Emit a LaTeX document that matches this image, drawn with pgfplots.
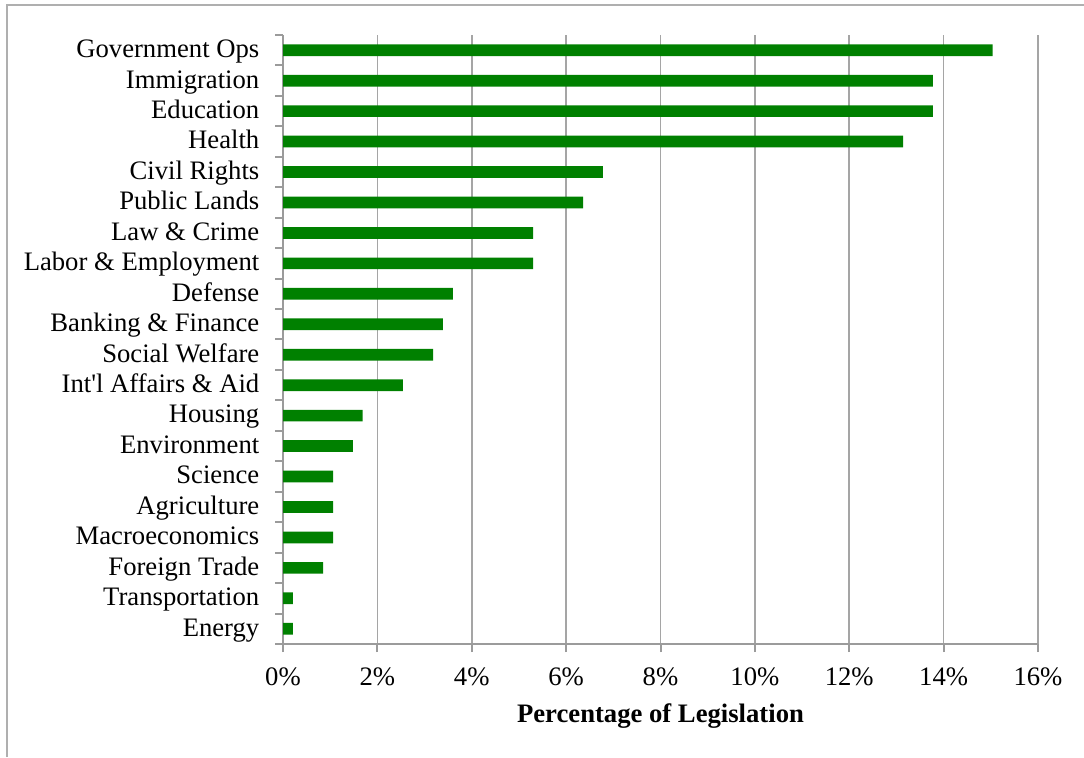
\documentclass[border=0pt]{standalone}
\usepackage{fontspec}
\setmainfont{Liberation Serif}
\usepackage{pgfplots}
\pgfplotsset{compat=1.18}
\definecolor{bargreen}{RGB}{0,128,0}
\definecolor{gridgray}{RGB}{165,165,165}
\definecolor{axisgray}{RGB}{155,155,155}
\definecolor{framegray}{RGB}{175,175,175}
\begin{document}
\begin{tikzpicture}
\useasboundingbox (0,0) rectangle (813pt,567.75pt);
\draw[framegray, line width=1.5pt] (5.25pt,0pt) -- (5.25pt,564pt) -- (813pt,564pt);
\begin{axis}[
  at={(212.25pt,84.75pt)}, anchor=south west,
  scale only axis, width=566.25pt, height=456.75pt,
  xbar, bar width=8.8pt,
  xmin=0, xmax=16, ymin=-0.5, ymax=19.5,
  xtick={0,2,...,16},
  xticklabels={0\%,2\%,4\%,6\%,8\%,10\%,12\%,14\%,16\%},
  ytick={0,...,19},
  yticklabels={Energy,Transportation,Foreign Trade,Macroeconomics,Agriculture,Science,Environment,Housing,Int\textquotesingle l Affairs \& Aid,Social Welfare,Banking \& Finance,Defense,Labor \& Employment,Law \& Crime,Public Lands,Civil Rights,Health,Education,Immigration,Government Ops},
  minor ytick={-0.5,0.5,...,19.5},
  axis x line*=bottom, axis y line*=left,
  axis line style={axisgray, line width=1.5pt, -},
  xmajorgrids, grid style={gridgray, line width=1.25pt},
  tick align=outside,
  major tick length=6pt, minor tick length=6pt,
  major y tick style={draw=none},
  minor y tick style={draw=axisgray, line width=1.5pt},
  major x tick style={draw=axisgray, line width=1.5pt},
  ticklabel style={font=\fontsize{20}{24}\selectfont},
  yticklabel style={anchor=base east, yshift=-5.5pt, xshift=-8.25pt},
  xticklabel style={anchor=base, yshift=-25pt},
  xlabel={\textbf{Percentage of Legislation}},
  xlabel style={font=\fontsize{20}{24}\selectfont, at={(axis description cs:0.5,0)}, anchor=base, yshift=-58.5pt},
  /pgf/number format/assume math mode=true,
]
\addplot[fill=bargreen, draw=none] coordinates {
(0.21,0) (0.21,1) (0.85,2) (1.06,3) (1.06,4) (1.06,5) (1.48,6) (1.69,7)
(2.54,8) (3.18,9) (3.39,10) (3.60,11) (5.30,12) (5.30,13) (6.36,14)
(6.78,15) (13.14,16) (13.77,17) (13.77,18) (15.04,19)
};
\end{axis}
\end{tikzpicture}
\end{document}
